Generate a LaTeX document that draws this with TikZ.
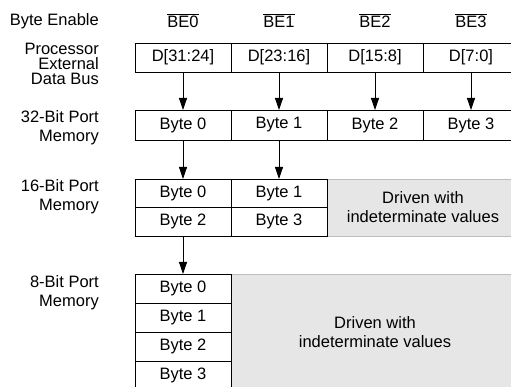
\documentclass[tikz,border=0pt]{standalone}
\usepackage{fontspec}
\setmainfont{Liberation Sans}
\usepackage{xcolor}
\usepackage{tikz}
\usetikzlibrary{arrows.meta, positioning}
\definecolor{fillgray}{HTML}{E6E6E6}
\definecolor{edgegray}{HTML}{BDBDBD}
\newcommand{\barsig}[1]{\setbox0\hbox{#1}\rlap{\rule[\dimexpr\ht0+1.6pt\relax]{\wd0}{0.7pt}}\box0}

\begin{document}
\begin{tikzpicture}[x=1pt, y=-1pt,
  txt/.style={font=\fontsize{16.5}{19}\selectfont},
  cell/.style={txt, draw=black, line width=0.8pt, minimum width=96pt, minimum height=29pt, inner sep=0pt, outer sep=0pt},
  idle/.style={txt, draw=edgegray, fill=fillgray, line width=0.8pt, align=center, inner sep=0pt, outer sep=0pt},
  rowlabel/.style={txt, anchor=east, align=right, inner sep=0pt},
  arr/.style={-{Triangle[length=12pt,width=8pt]}, line width=0.8pt}]
  \clip (0,0) rectangle (511,387);

  % row labels
  \node[rowlabel] (lblbe) at (99,21) {Byte Enable};
  \node[rowlabel, font=\fontsize{16.5}{15}\selectfont] (lblbus) at (99,64) {Processor\\External\\Data Bus};
  \node[rowlabel] (lbl32) at (99,128) {32-Bit Port\\Memory};
  \node[rowlabel] (lbl16) at (99,197) {16-Bit Port\\Memory};
  \node[rowlabel] (lbl8) at (99,293) {8-Bit Port\\Memory};

  % byte enables and data bus
  \foreach \i/\d in {0/{D[31:24]}, 1/{D[23:16]}, 2/{D[15:8]}, 3/{D[7:0]}} {
    \node[txt, inner sep=0pt] (be\i) at (183+96*\i,21) {\barsig{BE\i}};
    \node[cell] (bus\i) at (183+96*\i,57.5) {\d};
    \node[cell, minimum height=30pt] (m32-\i) at (183+96*\i,125) {Byte \i};
    \draw[arr] (bus\i.south) -- (m32-\i.north);
  }

  % 16-bit port
  \node[idle, minimum width=192pt, minimum height=57pt] (idle16) at (423,207.5) {Driven with\\indeterminate values};
  \node[cell, minimum height=28.5pt] (m16-0) at (183,193.25) {Byte 0};
  \node[cell, minimum height=28.5pt] (m16-1) at (279,193.25) {Byte 1};
  \node[cell, minimum height=28.5pt] (m16-2) at (183,221.75) {Byte 2};
  \node[cell, minimum height=28.5pt] (m16-3) at (279,221.75) {Byte 3};
  \draw[arr] (m32-0.south) -- (m16-0.north);
  \draw[arr] (m32-1.south) -- (m16-1.north);

  % 8-bit port
  \node[idle, minimum width=288pt, minimum height=116pt] (idle8) at (375,332) {Driven with\\indeterminate values};
  \foreach \i in {0,...,3} {
    \node[cell] (m8-\i) at (183,288.5+29*\i) {Byte \i};
  }
  \draw[arr] (m16-2.south) -- (m8-0.north);
\end{tikzpicture}
\end{document}
